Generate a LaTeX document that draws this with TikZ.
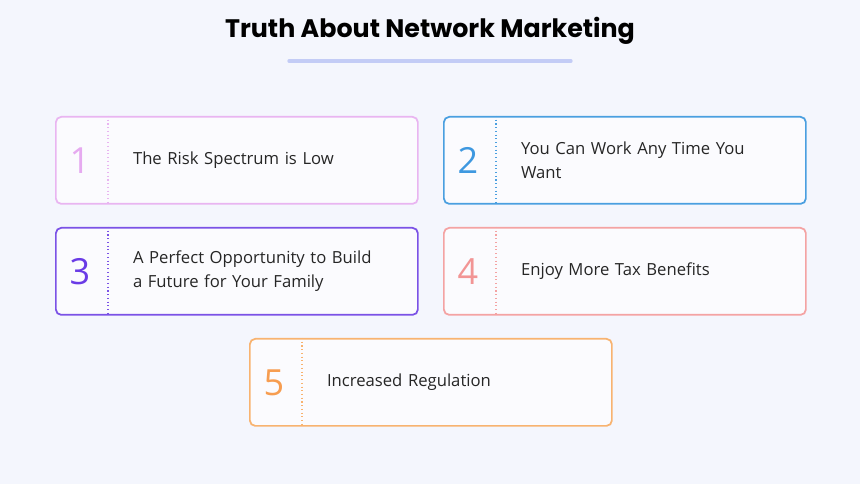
\documentclass[tikz,border=0pt]{standalone}
\usepackage{fontspec}
\setmainfont{Open Sans}
\newfontfamily\titlefont{Poppins}
\begin{document}
\begin{tikzpicture}[x=0.75pt,y=-0.75pt]
\definecolor{bg}{HTML}{F4F6FD}
\definecolor{cA}{HTML}{E9B5F1}\definecolor{nA}{HTML}{E6AAF0}
\definecolor{cB}{HTML}{4A9FE0}\definecolor{nB}{HTML}{3E98E0}
\definecolor{cC}{HTML}{7B52E6}\definecolor{nC}{HTML}{6A3BE6}
\definecolor{cD}{HTML}{F4A3A3}\definecolor{nD}{HTML}{F29595}
\definecolor{cE}{HTML}{F8B370}\definecolor{nE}{HTML}{F79D50}
\definecolor{ul}{HTML}{C3CCF6}
\tikzset{card/.style={draw=#1,line width=1.3pt,rounded corners=4pt,fill=white!60!bg,minimum width=271.5pt,minimum height=65.25pt,inner sep=0pt},
numtxt/.style={font=\fontsize{27}{30}\selectfont,text=#1},
cardtxt/.style={font=\fontsize{12.5}{18}\selectfont,align=left,anchor=west,text width=200pt,text=black!85}}
\fill[bg] (0,0) rectangle (860,484);
\useasboundingbox (0,0) rectangle (860,484);
\node[font=\titlefont\bfseries\fontsize{19}{22}\selectfont] (title) at (430,31) {Truth About Network Marketing};
\draw[line width=2.5pt,line cap=round,color=ul] (289,61) -- (571,61);
\newcommand\mycard[7]{%
 \node[card=#4,anchor=north west] (b#1) at (#2,#3) {};
 \draw[#4,dotted,line width=0.8pt] ([xshift=39.75pt]b#1.north west) -- ([xshift=39.75pt]b#1.south west);
 \node[numtxt=#5] (n#1) at ([xshift=18.75pt]b#1.west) {#6};
 \node[cardtxt] (t#1) at ([xshift=55pt]b#1.west) {#7};}
\mycard{1}{55}{116}{cA}{nA}{1}{The Risk Spectrum is Low}
\mycard{2}{443}{116}{cB}{nB}{2}{You Can Work Any Time You\\Want}
\mycard{3}{55}{227}{cC}{nC}{3}{A Perfect Opportunity to Build\\a Future for Your Family}
\mycard{4}{443}{227}{cD}{nD}{4}{Enjoy More Tax Benefits}
\mycard{5}{249}{338}{cE}{nE}{5}{Increased Regulation}
\end{tikzpicture}
\end{document}
